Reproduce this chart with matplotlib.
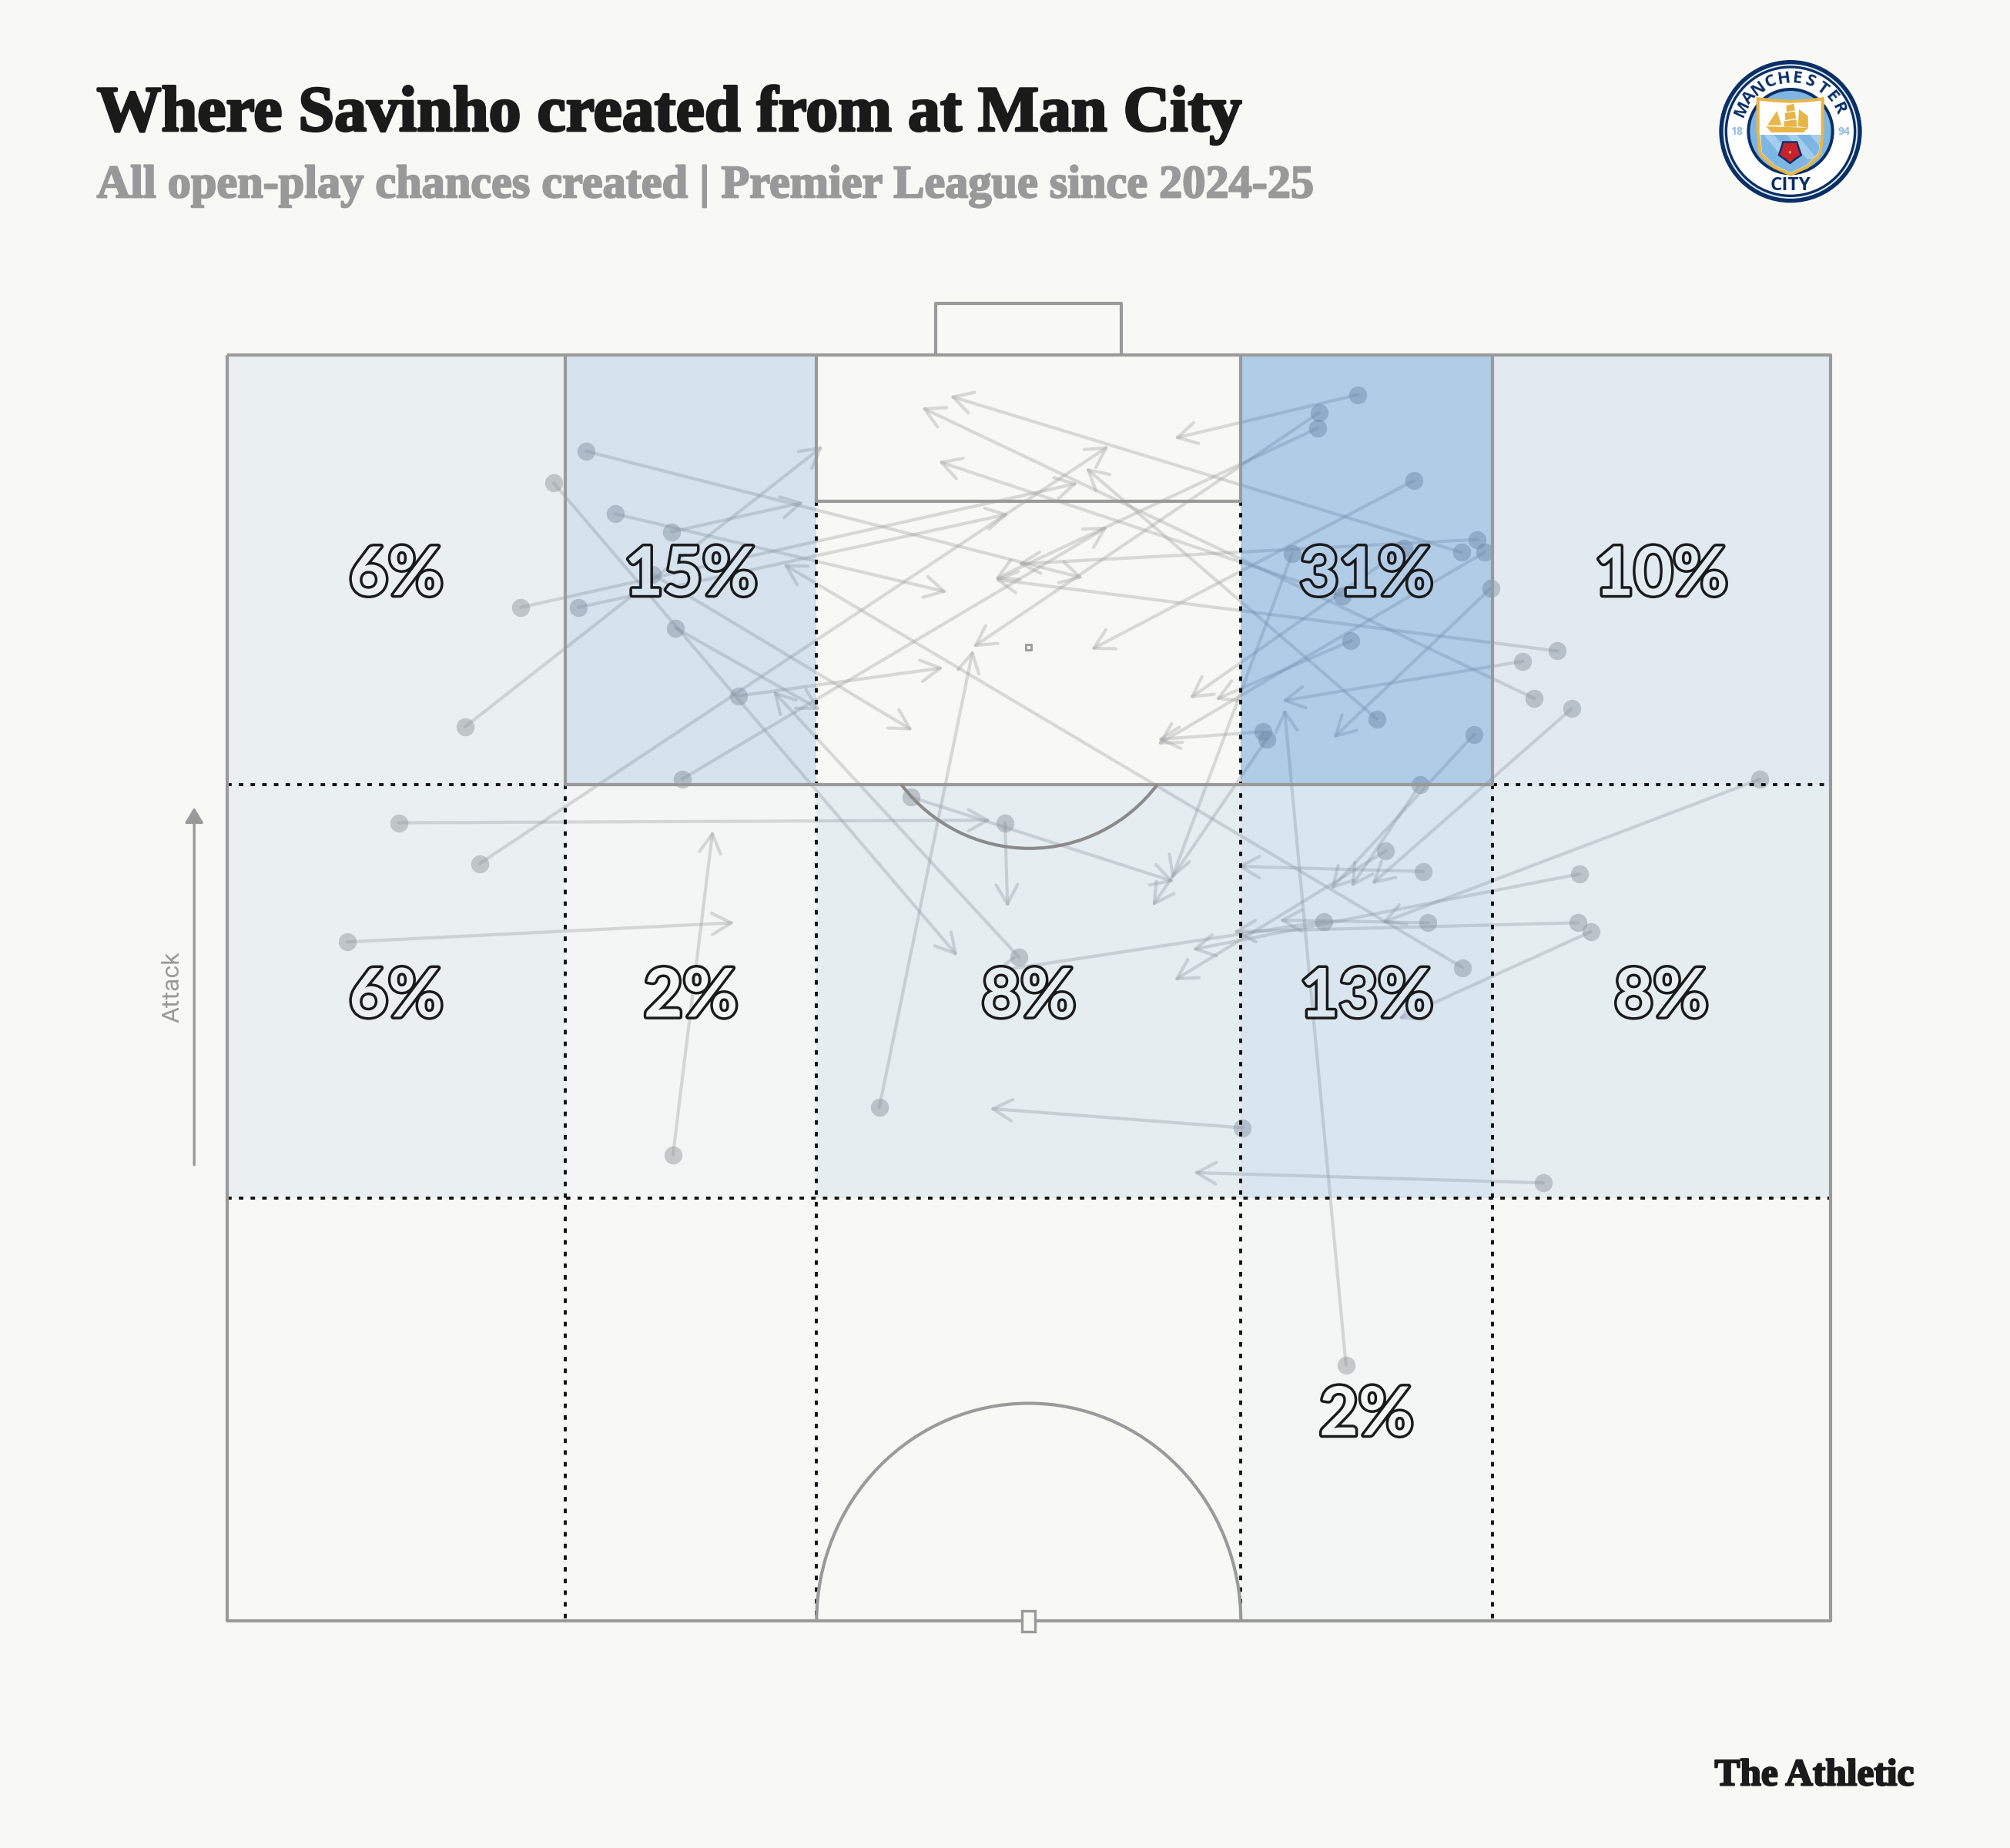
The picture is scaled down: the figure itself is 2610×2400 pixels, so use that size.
import numpy as np
import matplotlib
matplotlib.use("AGG")
from matplotlib import pyplot as plt
from matplotlib import patheffects as pe
from matplotlib.colors import LinearSegmentedColormap, to_rgb, to_hex
from matplotlib.patches import Arc, Circle, FancyArrowPatch, Polygon, Rectangle

# pass coordinates (x across the pitch, y down the page)
start_x = [457, 432, 480, 524, 509, 406, 451, 527, 576, 363, 532, 374, 795, 1141, 686, 1029, 1028, 1152, 1215, 1059,
           1103, 1140, 1158, 1008, 988, 985, 1095, 1047, 1197, 1074, 1163, 1054, 1188, 1226, 1150, 1108, 1081, 1110,
           1114, 1033, 1232, 1231, 1373, 1241, 1204, 969, 784, 711, 311, 271, 525, 1050]
start_y = [352, 377, 401, 415, 448, 474, 474, 490, 543, 567, 608, 674, 747, 755, 864, 322, 334, 421, 508, 308,
           375, 431, 431, 432, 577, 571, 428, 465, 545, 561, 459, 500, 516, 553, 573, 612, 664, 680,
           720, 719, 682, 720, 608, 727, 923, 880, 642, 622, 642, 735, 901, 1065]
end_x = [845, 747, 739, 627, 712, 841, 787, 640, 736, 642, 864, 865, 603, 611, 759, 759, 776, 794, 776, 916,
         851, 741, 903, 914, 899, 903, 928, 732, 719, 847, 1040, 948, 1000, 1070, 1038, 1054, 916, 965,
         998, 775, 930, 962, 1078, 1091, 931, 772, 786, 916, 773, 573, 556, 1002]
end_y = [451, 746, 462, 392, 570, 377, 401, 554, 521, 348, 411, 348, 539, 440, 507, 505, 452, 440, 452, 342,
         507, 309, 581, 686, 707, 577, 545, 360, 318, 365, 576, 546, 547, 690, 694, 692, 765, 676,
         718, 758, 741, 727, 720, 795, 915, 865, 708, 688, 640, 720, 648, 553]

# share of chances per zone, rows top to bottom
zone_x = [177, 441, 637, 968, 1164, 1428]
zone_y = [277, 612, 935, 1265]
zone_pct = np.array([[6, 15, 0, 31, 10],
                     [6, 2, 8, 13, 8],
                     [0, 0, 0, 2, 0]])

BG = "#f8f9f5"
LINE = "#9a9a9a"
DARK = "#1a1a1a"
NAVY = "#0a2f66"
SKY = "#7db6e3"
GOLD = "#e8b548"
TINT = (15 / 255, 102 / 255, 201 / 255)
MAX_ALPHA = 0.3

fig = plt.figure(figsize=(26.1, 24), dpi=100, facecolor=BG)
ax = fig.add_axes([0, 0, 1, 1])
ax.set_xlim(0, 1568)
ax.set_ylim(1442, 0)
ax.axis("off")

# passes go under the zone tint so they pick up its colour
ax.scatter(start_x, start_y, s=285, color="#8c8c8c", alpha=0.42, linewidths=0, zorder=2)
for x0, y0, x1, y1 in zip(start_x, start_y, end_x, end_y):
    ax.add_patch(FancyArrowPatch((x0, y0), (x1, y1), arrowstyle="->,head_length=18,head_width=10", mutation_scale=1,
                                 shrinkA=0, shrinkB=0, lw=3, color="#999999", alpha=0.33, zorder=2))

tint = LinearSegmentedColormap.from_list("tint", [TINT + (0,), TINT + (MAX_ALPHA,)])
ax.pcolormesh(zone_x, zone_y, zone_pct, cmap=tint, vmin=0, vmax=31, zorder=3, linewidth=0)

# zone grid
dots = dict(color="#111111", lw=2.8, ls=(0, (1.5, 2.4)), zorder=4)
ax.plot([441, 441], [612, 1265], **dots)
ax.plot([637, 637], [391, 1265], **dots)
ax.plot([968, 968], [391, 1265], **dots)
ax.plot([1164, 1164], [612, 1265], **dots)
ax.plot([177, 441], [612, 612], **dots)
ax.plot([1164, 1428], [612, 612], **dots)
ax.plot([177, 1428], [935, 935], **dots)

# pitch markings
solid = dict(color=LINE, lw=3, zorder=5, solid_capstyle="butt")
ax.plot([177, 1428, 1428, 177, 177], [277, 277, 1265, 1265, 277], **solid)
ax.plot([730, 730, 875, 875], [277, 237, 237, 277], **solid)
ax.plot([637, 637, 968, 968], [277, 391, 391, 277], **solid)
ax.plot([441, 441, 1164, 1164], [277, 612, 612, 277], **solid)
ax.add_patch(Arc((802.5, 1265), 331, 340, theta1=180, theta2=360, color=LINE, lw=3, zorder=5))
ax.add_patch(Arc((803, 537), 250, 250, theta1=37, theta2=143, color="#8a8a8a", lw=3, zorder=5))
ax.add_patch(Rectangle((800.5, 503), 4, 4, fc=BG, ec=LINE, lw=2, zorder=5))
ax.add_patch(Rectangle((797.5, 1257), 10, 16, fc=BG, ec=LINE, lw=2.4, zorder=5))

# zone labels, outlined with the zone colour inside
for r in range(3):
    for c in range(5):
        pct = zone_pct[r, c]
        if pct > 0:
            a = MAX_ALPHA * pct / 31
            inside = to_hex([b * (1 - a) + t * a for b, t in zip(to_rgb(BG), TINT)])
            ax.text((zone_x[c] + zone_x[c + 1]) / 2, (zone_y[r] + zone_y[r + 1]) / 2, f"{pct}%",
                    ha="center", va="center_baseline", fontsize=63, family="Lato", weight="bold",
                    color=inside, zorder=6,
                    path_effects=[pe.Stroke(linewidth=5, foreground=DARK), pe.Normal()])

# attack arrow
ax.annotate("", xy=(151.5, 630), xytext=(151.5, 909), zorder=5,
            arrowprops=dict(arrowstyle="-|>,head_length=0.6,head_width=0.36", mutation_scale=20, lw=2.4,
                            color=LINE, shrinkA=0, shrinkB=0))
ax.text(134.5, 770, "Attack", rotation=90, ha="center", va="center", fontsize=23, family="Roboto", color=LINE)

# header and footer
ax.text(75.5, 102, "Where Savinho created from at Man City", fontsize=60.4, family="Liberation Serif", weight="bold",
        color=DARK, path_effects=[pe.withStroke(linewidth=2.2, foreground=DARK)])
ax.text(75.5, 154, "All open-play chances created | Premier League since 2024-25", fontsize=43.4,
        family="Liberation Serif", weight="bold", color="#999999",
        path_effects=[pe.withStroke(linewidth=1.6, foreground="#999999")])
ax.text(1493, 1393, "The Athletic", ha="right", fontsize=35.5, family="Liberation Serif", weight="bold", color=DARK,
        path_effects=[pe.withStroke(linewidth=1.6, foreground=DARK)])

# club badge, drawn in the crop's own units
badge = fig.add_axes([2200 / 2610, 1 - 280 / 2400, 240 / 2610, 220 / 2400])
badge.set_xlim(0, 720)
badge.set_ylim(660, 0)
badge.axis("off")
cx, cy = 375, 332
for radius, colour in [(278, NAVY), (262, "#dfeaf4"), (256, NAVY), (246, "white"), (170, NAVY), (158, SKY)]:
    badge.add_patch(Circle((cx, cy), radius, fc=colour, ec="none"))

shield = [(248, 205), (310, 212), (375, 215), (440, 212), (500, 205), (500, 340), (490, 420), (440, 470), (375, 500),
          (310, 470), (258, 420), (248, 340)]
badge.add_patch(Polygon(shield, closed=True, fc="white", ec=GOLD, lw=3))
lower = Polygon([(258, 345), (492, 345), (484, 415), (436, 464), (375, 492), (314, 464), (264, 415)], closed=True,
                fc=SKY, ec="none")
badge.add_patch(lower)
for off in (0, 90, 180):
    stripe = Polygon([(270 + off, 345), (310 + off, 345), (390 + off, 440), (350 + off, 440)], closed=True,
                     fc="#a4cdee", ec="none")
    badge.add_patch(stripe)
    stripe.set_clip_path(lower)
# ship
badge.add_patch(Polygon([(280, 312), (445, 318), (425, 336), (300, 336)], closed=True, fc=GOLD, ec="none"))
for pts in ([(285, 308), (322, 252), (340, 308)],
            [(358, 232), (388, 224), (392, 250), (360, 256)],
            [(354, 260), (392, 254), (396, 282), (354, 288)],
            [(350, 292), (398, 286), (400, 314), (350, 314)],
            [(408, 246), (443, 272), (444, 318), (404, 312)]):
    badge.add_patch(Polygon(pts, closed=True, fc=GOLD, ec="none"))
# rose
petal = np.radians(np.arange(0, 360, 36) + 18)
rad = np.where(np.arange(10) % 2 == 0, 50, 40)
badge.add_patch(Polygon(np.c_[373 + rad * np.cos(petal), 410 + rad * np.sin(petal)], closed=True, fc=NAVY, ec="none"))
badge.add_patch(Polygon(np.c_[373 + (rad - 8) * np.cos(petal), 410 + (rad - 8) * np.sin(petal)], closed=True,
                        fc="#c8232c", ec="none"))
badge.add_patch(Circle((373, 413), 5, fc=GOLD, ec="none"))

letters = "MANCHESTER"
angles = np.linspace(155, 25, len(letters))
for ch, ang in zip(letters, angles):
    bx = cx + 207 * np.cos(np.radians(ang))
    by = cy - 207 * np.sin(np.radians(ang))
    badge.text(bx, by, ch, rotation=ang - 90, ha="center", va="center", fontsize=16, family="Open Sans",
               weight="bold", color=NAVY)
badge.text(375, 542, "CITY", ha="center", va="center", fontsize=17.5, family="Open Sans", weight="bold", color=NAVY)
badge.text(165, 334, "18", ha="center", va="center", fontsize=10, family="Open Sans", weight="bold", color="#8fbde3")
badge.text(584, 334, "94", ha="center", va="center", fontsize=10, family="Open Sans", weight="bold", color="#8fbde3")

fig.savefig("out.png", facecolor=BG)
